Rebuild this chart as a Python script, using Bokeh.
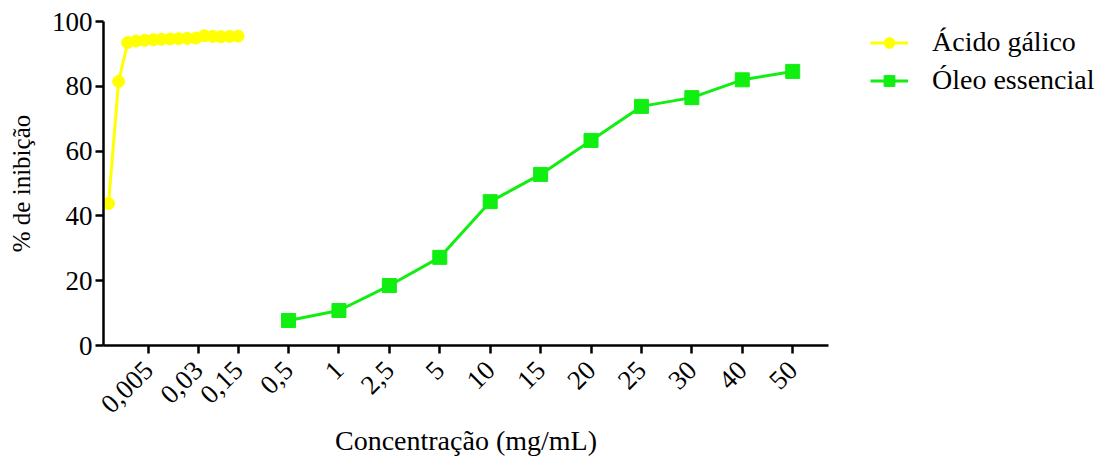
from bokeh.plotting import figure
from bokeh.layouts import row
from bokeh.models import FixedTicker, Legend, LegendItem, Range1d
from bokeh.embed import file_html
from bokeh.resources import INLINE
import math

# Tick labels and their positions on the (discontinuous) concentration axis
tick_labels = ["0,005", "0,03", "0,15", "0,5", "1", "2,5", "5", "10", "15", "20", "25", "30", "40", "50"]
tick_pos = [1.22, 2.21, 3.0, 4, 5, 6, 7, 8, 9, 10, 11, 12, 13, 14]

# Ácido gálico (yellow)
gal_x = [0.43, 0.63, 0.81, 0.98, 1.15, 1.32, 1.48, 1.65, 1.82, 1.99, 2.16, 2.33, 2.50, 2.66, 2.83, 3.00]
gal_y = [43.8, 81.5, 93.5, 94.0, 94.2, 94.4, 94.5, 94.6, 94.7, 94.8, 94.9, 95.6, 95.4, 95.3, 95.4, 95.5]

# Óleo essencial (green)
oil_x = [4, 5, 6, 7, 8, 9, 10, 11, 12, 13, 14]
oil_y = [7.7, 10.8, 18.5, 27.2, 44.4, 52.8, 63.3, 73.8, 76.5, 82.0, 84.6]

series_names = ["Ácido gálico", "Óleo essencial"]

FONT = "Liberation Serif"
YELLOW = "#FFFF00"
GREEN = "#11EE11"

p = figure(frame_width=725, frame_height=324, output_backend="svg", toolbar_location=None,
           x_range=Range1d(0.33, 14.71), y_range=Range1d(0, 100),
           min_border_left=103, min_border_right=12, min_border_top=21, min_border_bottom=112)
p.outline_line_color = None
p.grid.grid_line_color = None
p.background_fill_color = "white"
p.border_fill_color = "white"

p.line(gal_x, gal_y, line_color=YELLOW, line_width=3)
p.scatter(gal_x, gal_y, marker="circle", size=12, fill_color=YELLOW, line_color=YELLOW)
p.line(oil_x, oil_y, line_color=GREEN, line_width=3)
p.scatter(oil_x, oil_y, marker="square", size=14, fill_color=GREEN, line_color=GREEN)

# axes
p.xaxis.ticker = FixedTicker(ticks=tick_pos)
p.xaxis.major_label_overrides = {t: l for t, l in zip(tick_pos, tick_labels)}
p.xaxis.major_label_orientation = math.pi / 4
p.yaxis.ticker = FixedTicker(ticks=[0, 20, 40, 60, 80, 100])
for ax in (p.xaxis, p.yaxis):
    ax.axis_line_width = 2.5
    ax.axis_line_color = "black"
    ax.major_tick_line_width = 2.5
    ax.major_tick_line_color = "black"
    ax.major_tick_out = 8
    ax.major_tick_in = 0
    ax.minor_tick_line_color = None
    ax.major_label_text_font = FONT
    ax.major_label_text_font_size = "27px"
    ax.major_label_text_color = "black"
    ax.axis_label_text_font = FONT
    ax.axis_label_text_font_style = "normal"
    ax.axis_label_text_color = "black"
p.xaxis.axis_label_text_font_size = "28px"
p.yaxis.axis_label_text_font_size = "25px"
p.yaxis.major_label_standoff = 3
p.xaxis.major_label_standoff = 12
p.xaxis.axis_label = "Concentração (mg/mL)"
p.yaxis.axis_label = "% de inibição"
p.xaxis.axis_label_standoff = 1
p.yaxis.axis_label_standoff = 14

# legend panel (separate figure to the right); the proxy renderers use the
# same data but sit outside this panel's visible range, so only the legend shows
pl = figure(width=265, height=460, output_backend="svg", toolbar_location=None,
            x_axis_type=None, y_axis_type=None, x_range=Range1d(100, 101), y_range=Range1d(200, 201),
            min_border=0)
pl.outline_line_color = None
pl.grid.grid_line_color = None
pl.background_fill_color = "white"
pl.border_fill_color = "white"
lg1 = pl.line(gal_x, gal_y, line_color=YELLOW, line_width=3)
sg1 = pl.scatter(gal_x, gal_y, marker="circle", size=12, fill_color=YELLOW, line_color=YELLOW)
lg2 = pl.line(oil_x, oil_y, line_color=GREEN, line_width=3)
sg2 = pl.scatter(oil_x, oil_y, marker="square", size=14, fill_color=GREEN, line_color=GREEN)

legend = Legend(items=[LegendItem(label=series_names[0], renderers=[lg1, sg1]),
                       LegendItem(label=series_names[1], renderers=[lg2, sg2])],
                location=(30, 250))
legend.label_text_font = FONT
legend.label_text_font_size = "28px"
legend.label_text_color = "black"
legend.border_line_color = None
legend.background_fill_alpha = 0
legend.glyph_width = 38
legend.glyph_height = 27
legend.label_standoff = 24
legend.spacing = 6
legend.padding = 0
legend.margin = 0
pl.add_layout(legend, "center")

layout = row(p, pl)
open("out.html", "w").write(file_html(layout, INLINE))
